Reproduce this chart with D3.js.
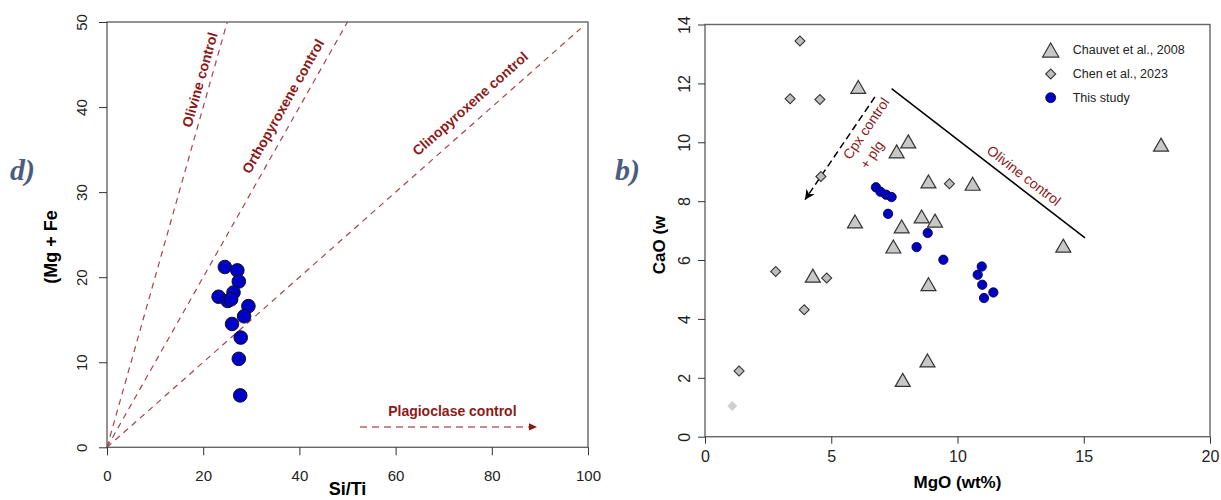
<!DOCTYPE html>
<html lang="en">
<head>
<meta charset="UTF-8">
<title>Si/Ti and MgO-CaO diagrams</title>
<style>
  body { margin: 0; background: #fff; }
  svg { font-family: "Liberation Sans", Arial, sans-serif; }
  .tick text { fill: #222; }
  .tick line { stroke: #333; }
</style>
</head>
<body>
<svg id="chart" width="1221" height="500"></svg>

<script src="https://cdn.jsdelivr.net/npm/d3@7"></script>
<script>

// ---- left panel: Si/Ti vs (Mg + Fe) ----
const siTi = [24.5, 27.1, 27.4, 26.3, 23.2, 25.1, 25.8, 29.4, 28.5, 26.0, 27.8, 27.4, 27.7]
const mgFe = [21.2, 20.8, 19.5, 18.2, 17.7, 17.2, 17.4, 16.6, 15.4, 14.5, 12.9, 10.4, 6.1]
const leftXTicks = [0, 20, 40, 60, 80, 100]
const leftYTicks = [0, 10, 20, 30, 40, 50]

const controlNames = ["Olivine control", "Orthopyroxene control", "Clinopyroxene control"]
const controlSlopes = [2, 1, 0.5]
const controlEndX = [25, 50, 98.5]
const controlLabelX = [19.3, 36.6, 75.5]
const controlLabelY = [43.2, 40.1, 40.4]
const plagArrowX = [52.6, 89.4]
const plagArrowY = 2.4
const plagLabel = { text: "Plagioclase control", x: 71.8, y: 3.7 }

// ---- right panel: MgO vs CaO ----
const chauvetMgO = [6.07, 8.05, 7.59, 18.06, 8.85, 10.6, 5.94, 8.58, 9.11, 7.79, 7.46, 14.19, 4.27, 8.85, 8.81, 7.83]
const chauvetCaO = [11.88, 10.03, 9.69, 9.92, 8.67, 8.59, 7.31, 7.48, 7.34, 7.14, 6.46, 6.49, 5.47, 5.18, 2.59, 1.93]
const chenMgO = [3.76, 3.37, 4.55, 4.59, 9.68, 2.80, 4.82, 3.93, 1.35]
const chenCaO = [13.44, 11.48, 11.45, 8.84, 8.59, 5.61, 5.39, 4.31, 2.23]
const chenFadedMgO = [1.08]
const chenFadedCaO = [1.04]
const studyMgO = [6.77, 6.95, 7.17, 7.39, 7.25, 8.82, 8.38, 9.44, 10.96, 10.80, 10.98, 11.42, 11.05]
const studyCaO = [8.47, 8.32, 8.22, 8.14, 7.57, 6.92, 6.44, 6.01, 5.78, 5.50, 5.16, 4.90, 4.71]
const rightXTicks = [0, 5, 10, 15, 20]
const rightYTicks = [0, 2, 4, 6, 8, 10, 12, 14]
const legendLabels = ["Chauvet et al., 2008", "Chen et al., 2023", "This study"]

const olivineLine = [[7.39, 11.82], [15.05, 6.75]]
const cpxArrow = [[6.73, 11.54], [3.96, 8.05]]


const svg = d3.select("#chart")
const red = "#8b1a1a"

let defs = svg.append("defs")
defs.append("marker")
    .attr("id", "headRed")
    .attr("viewBox", "0 0 10 10")
    .attr("refX", 10).attr("refY", 5)
    .attr("markerUnits", "userSpaceOnUse")
    .attr("markerWidth", 12).attr("markerHeight", 8)
    .attr("orient", "auto")
    .append("path").attr("d", "M0,0.5 L10,5 L0,9.5 Z").attr("fill", red)
defs.append("marker")
    .attr("id", "headBlack")
    .attr("viewBox", "0 0 10 10")
    .attr("refX", 10).attr("refY", 5)
    .attr("markerUnits", "userSpaceOnUse")
    .attr("markerWidth", 11).attr("markerHeight", 10)
    .attr("orient", "auto")
    .append("path").attr("d", "M0,0 L10,5 L0,10 L3,5 Z").attr("fill", "#000")

// triangle centred on its bounding box (like the R symbol)
const bboxTriangle = {
    draw(ctx, size) {
        let s = Math.sqrt(size * 4 / Math.sqrt(3))
        let h = s * Math.sqrt(3) / 2
        ctx.moveTo(0, -h / 2)
        ctx.lineTo(s / 2, h / 2)
        ctx.lineTo(-s / 2, h / 2)
        ctx.closePath()
    }
}

function drawFrame(g, x, y, xTicks, yTicks, opt) {
    let [x0, x1] = x.range()
    let [y0, y1] = y.range()
    g.append("rect")
        .attr("x", x0).attr("y", y1)
        .attr("width", x1 - x0).attr("height", y0 - y1)
        .attr("fill", "none").attr("stroke", "#666").attr("stroke-width", 1.4)

    let xa = g.append("g")
        .attr("transform", "translate(0," + y0 + ")")
        .call(d3.axisBottom(x).tickValues(xTicks).tickSize(opt.tick))
    xa.select(".domain").remove()
    xa.attr("font-size", opt.font).attr("font-family", null)
    xa.selectAll("text").attr("y", opt.xLabelY).attr("dy", 0)

    let ya = g.append("g")
        .attr("transform", "translate(" + x0 + ",0)")
        .call(d3.axisLeft(y).tickValues(yTicks).tickSize(opt.tick))
    ya.select(".domain").remove()
    ya.attr("font-size", opt.font).attr("font-family", null)
    ya.selectAll("text")
        .attr("x", 0).attr("y", -opt.yLabelX).attr("dy", 0)
        .attr("text-anchor", "middle")
        .attr("transform", "rotate(-90)")
}

// ================= left panel =================
let left = svg.append("g")
let lx = d3.scaleLinear().domain([0, 100]).range([107, 588])
let ly = d3.scaleLinear().domain([0, 50]).range([447.3, 22])

let lineGen = d3.line().x(d => lx(d[0])).y(d => ly(d[1]))

controlSlopes.forEach((s, i) => {
    left.append("path")
        .datum([[0, 0], [controlEndX[i], s * controlEndX[i]]])
        .attr("d", lineGen)
        .attr("fill", "none")
        .attr("stroke", "#a8434b")
        .attr("stroke-width", 1.2)
        .attr("stroke-dasharray", "6,5")

    let angle = Math.atan2(ly(s) - ly(0), lx(1) - lx(0)) * 180 / Math.PI
    left.append("text")
        .attr("transform", `translate(${lx(controlLabelX[i])},${ly(controlLabelY[i])}) rotate(${angle})`)
        .attr("text-anchor", "middle")
        .attr("dy", "0.35em")
        .attr("font-size", 14)
        .attr("font-weight", "bold")
        .attr("fill", red)
        .text(controlNames[i])
})

left.append("line")
    .attr("x1", lx(plagArrowX[0])).attr("x2", lx(plagArrowX[1]))
    .attr("y1", ly(plagArrowY)).attr("y2", ly(plagArrowY))
    .attr("stroke", "#b5646b")
    .attr("stroke-width", 1.5)
    .attr("stroke-dasharray", "7,5")
    .attr("marker-end", "url(#headRed)")

left.append("text")
    .attr("x", lx(plagLabel.x)).attr("y", ly(plagLabel.y))
    .attr("text-anchor", "middle")
    .attr("font-size", 14)
    .attr("font-weight", "bold")
    .attr("fill", red)
    .text(plagLabel.text)

drawFrame(left, lx, ly, leftXTicks, leftYTicks, { tick: 8, font: 15, xLabelY: 34, yLabelX: 20 })

left.selectAll("circle.pt")
    .data(siTi.map((v, i) => [v, mgFe[i]]))
    .join("circle")
    .attr("class", "pt")
    .attr("cx", d => lx(d[0]))
    .attr("cy", d => ly(d[1]))
    .attr("r", 6.8)
    .attr("fill", "#0000c8")
    .attr("stroke", "#111")
    .attr("stroke-width", 1)

left.append("text")
    .attr("x", 347.5).attr("y", 495)
    .attr("text-anchor", "middle")
    .attr("font-size", 18).attr("font-weight", "bold")
    .text("Si/Ti")

left.append("text")
    .attr("transform", "translate(57,247) rotate(-90)")
    .attr("text-anchor", "middle")
    .attr("font-size", 18).attr("font-weight", "bold")
    .text("(Mg + Fe")

left.append("text")
    .attr("x", 10).attr("y", 180)
    .attr("font-family", "'Liberation Serif', 'DejaVu Serif', serif")
    .attr("font-size", 30).attr("font-weight", "bold").attr("font-style", "italic")
    .attr("fill", "#4b5d7e")
    .text("d)")

// ================= right panel =================
let right = svg.append("g")
let rx = d3.scaleLinear().domain([0, 20]).range([705, 1210])
let ry = d3.scaleLinear().domain([0, 14]).range([436.7, 24.5])
let rLine = d3.line().x(d => rx(d[0])).y(d => ry(d[1]))

drawFrame(right, rx, ry, rightXTicks, rightYTicks, { tick: 7, font: 16, xLabelY: 25, yLabelX: 15 })

right.append("path")
    .datum(olivineLine)
    .attr("d", rLine)
    .attr("stroke", "#000").attr("stroke-width", 1.5).attr("fill", "none")

let olAngle = Math.atan2(ry(olivineLine[1][1]) - ry(olivineLine[0][1]), rx(olivineLine[1][0]) - rx(olivineLine[0][0])) * 180 / Math.PI
right.append("text")
    .attr("transform", `translate(${rx(12.63)},${ry(8.87)}) rotate(${olAngle})`)
    .attr("text-anchor", "middle").attr("dy", "0.35em")
    .attr("font-size", 14).attr("fill", red)
    .text("Olivine control")

right.append("path")
    .datum(cpxArrow)
    .attr("d", rLine)
    .attr("stroke", "#000").attr("stroke-width", 1.5).attr("fill", "none")
    .attr("stroke-dasharray", "7,4")
    .attr("marker-end", "url(#headBlack)")

let cpxAngle = Math.atan2(ry(cpxArrow[0][1]) - ry(cpxArrow[1][1]), rx(cpxArrow[0][0]) - rx(cpxArrow[1][0])) * 180 / Math.PI
right.append("text")
    .attr("transform", `translate(${rx(6.38)},${ry(10.47)}) rotate(${cpxAngle})`)
    .attr("text-anchor", "middle").attr("dy", "0.35em")
    .attr("font-size", 14).attr("fill", red)
    .text("Cpx control")
right.append("text")
    .attr("transform", `translate(${rx(6.61)},${ry(9.58)}) rotate(${cpxAngle})`)
    .attr("text-anchor", "middle").attr("dy", "0.35em")
    .attr("font-size", 14).attr("fill", red)
    .text("+ plg")

let triangle = d3.symbol(bboxTriangle, 97)
let diamond = d3.symbol(d3.symbolSquare, 50)

right.selectAll("path.faded")
    .data(chenFadedMgO.map((v, i) => [v, chenFadedCaO[i]]))
    .join("path")
    .attr("class", "faded")
    .attr("d", diamond)
    .attr("transform", d => `translate(${rx(d[0])},${ry(d[1])}) rotate(45)`)
    .attr("fill", "#d0d0d0")

right.selectAll("path.chen")
    .data(chenMgO.map((v, i) => [v, chenCaO[i]]))
    .join("path")
    .attr("class", "chen")
    .attr("d", diamond)
    .attr("transform", d => `translate(${rx(d[0])},${ry(d[1])}) rotate(45)`)
    .attr("fill", "#bdbdbd").attr("stroke", "#333").attr("stroke-width", 1.1)

right.selectAll("path.chauvet")
    .data(chauvetMgO.map((v, i) => [v, chauvetCaO[i]]))
    .join("path")
    .attr("class", "chauvet")
    .attr("d", triangle)
    .attr("transform", d => `translate(${rx(d[0])},${ry(d[1])})`)
    .attr("fill", "#c8c8c8").attr("stroke", "#333").attr("stroke-width", 1.2)

right.selectAll("circle.study")
    .data(studyMgO.map((v, i) => [v, studyCaO[i]]))
    .join("circle")
    .attr("class", "study")
    .attr("cx", d => rx(d[0]))
    .attr("cy", d => ry(d[1]))
    .attr("r", 4.7)
    .attr("fill", "#0000c0").attr("stroke", "#000040").attr("stroke-width", 0.8)

// legend
let legend = right.append("g").attr("transform", "translate(1050.7,50)")
legend.append("path").attr("d", d3.symbol(bboxTriangle, 115))
    .attr("fill", "#c8c8c8").attr("stroke", "#333").attr("stroke-width", 1.2)
legend.append("path").attr("d", diamond)
    .attr("transform", "translate(0,24) rotate(45)")
    .attr("fill", "#bdbdbd").attr("stroke", "#333").attr("stroke-width", 1.1)
legend.append("circle").attr("cy", 47.7).attr("r", 5)
    .attr("fill", "#0000c0").attr("stroke", "#000040").attr("stroke-width", 0.8)
legend.selectAll("text")
    .data(legendLabels)
    .join("text")
    .attr("x", 22)
    .attr("y", (d, i) => [0, 24, 47.7][i])
    .attr("dy", "0.35em")
    .attr("font-size", 12.5)
    .attr("fill", "#222")
    .text(d => d)

right.append("text")
    .attr("x", 957.5).attr("y", 487.5)
    .attr("text-anchor", "middle")
    .attr("font-size", 17).attr("font-weight", "bold")
    .text("MgO (wt%)")

right.append("text")
    .attr("transform", "translate(665,245) rotate(-90)")
    .attr("text-anchor", "middle")
    .attr("font-size", 17).attr("font-weight", "bold")
    .text("CaO (w")

right.append("text")
    .attr("x", 615).attr("y", 180)
    .attr("font-family", "'Liberation Serif', 'DejaVu Serif', serif")
    .attr("font-size", 30).attr("font-weight", "bold").attr("font-style", "italic")
    .attr("fill", "#4b5d7e")
    .text("b)")

</script>
</body>
</html>
